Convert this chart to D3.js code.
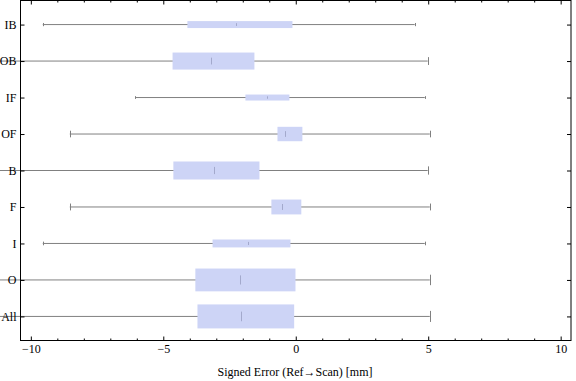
<!DOCTYPE html>
<html>
<head>
<meta charset="utf-8">
<script src="https://cdn.jsdelivr.net/npm/d3@7"></script>
<style>
  body { margin: 0; background: #fff; }
  svg text { font-family: "Liberation Serif", "DejaVu Serif", serif; }
</style>
</head>
<body>
<div id="chart"></div>
<script>
// Données
const categories = ["IB", "OB", "IF", "OF", "B", "F", "I", "O", "All"];
const whiskerMin = [-9.55, -11.5, -6.05, -8.53, -11.5, -8.53, -9.55, -11.5, -11.5];
const q1 = [-4.09, -4.65, -1.9, -0.69, -4.62, -0.92, -3.14, -3.79, -3.71];
const median = [-2.26, -3.21, -1.09, -0.42, -3.1, -0.53, -1.8, -2.11, -2.08];
const q3 = [-0.125, -1.56, -0.24, 0.25, -1.37, 0.21, -0.2, -0.01, -0.06];
const whiskerMax = [4.49, 4.98, 4.87, 5.06, 4.98, 5.06, 4.87, 5.06, 5.06];
// poids relatif de chaque boîte (épaisseur)
const weight = [0.29, 0.71, 0.25, 0.6, 0.75, 0.62, 0.33, 0.95, 1.0];

const majorTicks = [-10, -5, 0, 5, 10];

const width = 576, height = 381;
const frame = { left: 20.5, right: 571, top: 0.5, bottom: 340.5 };

const svg = d3.select("#chart")
    .append("svg")
    .attr("width", width)
    .attr("height", height);

// Échelles
const x = d3.scaleLinear()
    .domain([-10.39, 10.39])
    .range([frame.left, frame.right]);

const y = d3.scalePoint()
    .domain(categories)
    .range([frame.top, frame.bottom])
    .padding(0.66);

const thick = d3.scaleLinear().domain([0, 1]).range([0, 24]);

const rows = categories.map((c, i) => ({
    name: c,
    min: whiskerMin[i], q1: q1[i], med: median[i], q3: q3[i], max: whiskerMax[i],
    w: weight[i]
}));

// Moustaches
const g = svg.append("g");
g.selectAll("line.whisker")
    .data(rows)
    .enter()
    .append("line")
    .attr("class", "whisker")
    .attr("x1", d => x(d.min))
    .attr("x2", d => x(d.max))
    .attr("y1", d => y(d.name))
    .attr("y2", d => y(d.name))
    .attr("stroke", "#808080")
    .attr("stroke-width", 1);

// Petites barres aux extrémités
["min", "max"].forEach(k => {
    g.selectAll("line.cap-" + k)
        .data(rows)
        .enter()
        .append("line")
        .attr("x1", d => Math.round(x(d[k])) + 0.5)
        .attr("x2", d => Math.round(x(d[k])) + 0.5)
        .attr("y1", d => y(d.name) - thick(d.w) * 0.23)
        .attr("y2", d => y(d.name) + thick(d.w) * 0.23)
        .attr("stroke", "#808080")
        .attr("stroke-width", 1);
});

// Boîtes
g.selectAll("rect.box")
    .data(rows)
    .enter()
    .append("rect")
    .attr("x", d => x(d.q1))
    .attr("width", d => x(d.q3) - x(d.q1))
    .attr("y", d => y(d.name) - thick(d.w) / 2)
    .attr("height", d => thick(d.w))
    .attr("fill", "#cdd4f6");

// Médianes
g.selectAll("line.median")
    .data(rows)
    .enter()
    .append("line")
    .attr("x1", d => Math.round(x(d.med)) + 0.5)
    .attr("x2", d => Math.round(x(d.med)) + 0.5)
    .attr("y1", d => y(d.name) - thick(d.w) * 0.2)
    .attr("y2", d => y(d.name) + thick(d.w) * 0.2)
    .attr("stroke", "#a3a9cc")
    .attr("stroke-width", 1);

// Cadre
svg.append("rect")
    .attr("x", frame.left)
    .attr("y", frame.top)
    .attr("width", frame.right - frame.left)
    .attr("height", frame.bottom - frame.top)
    .attr("fill", "none")
    .attr("stroke", "black")
    .attr("stroke-width", 1);

const minorTicks = d3.range(-10, 11).filter(v => v % 5 !== 0);

function styleAxis(sel) {
    sel.select(".domain").remove();
    sel.selectAll("line").attr("stroke", "black");
    sel.selectAll("text")
        .attr("fill", "black")
        .style("font-size", "12px");
}

// Axe du bas
svg.append("g")
    .attr("transform", `translate(0,${frame.bottom})`)
    .call(d3.axisBottom(x).tickValues(majorTicks).tickSize(-4).tickPadding(4))
    .call(styleAxis);
svg.append("g")
    .attr("transform", `translate(0,${frame.bottom})`)
    .call(d3.axisBottom(x).tickValues(minorTicks).tickSize(-2).tickFormat(""))
    .call(styleAxis);

// Axe du haut (sans étiquettes)
svg.append("g")
    .attr("transform", `translate(0,${frame.top})`)
    .call(d3.axisTop(x).tickValues(majorTicks).tickSize(-4).tickFormat(""))
    .call(styleAxis);
svg.append("g")
    .attr("transform", `translate(0,${frame.top})`)
    .call(d3.axisTop(x).tickValues(minorTicks).tickSize(-2).tickFormat(""))
    .call(styleAxis);

// Axe gauche avec les catégories
svg.append("g")
    .attr("transform", `translate(${frame.left},0)`)
    .call(d3.axisLeft(y).tickSize(-4).tickPadding(4))
    .call(styleAxis);

// Axe droit
svg.append("g")
    .attr("transform", `translate(${frame.right},0)`)
    .call(d3.axisRight(y).tickSize(-4).tickFormat(""))
    .call(styleAxis);

// Titre de l'axe
svg.append("text")
    .attr("x", 295)
    .attr("y", 376)
    .attr("text-anchor", "middle")
    .style("font-size", "12px")
    .text("Signed Error (Ref\u2192Scan) [mm]");
</script>
</body>
</html>
